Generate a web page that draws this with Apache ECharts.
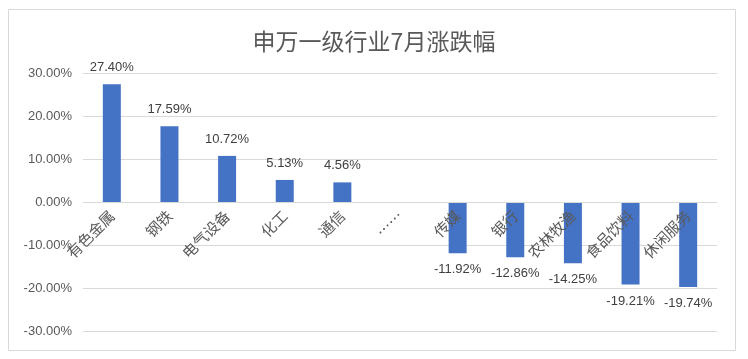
<!DOCTYPE html>
<html><head><meta charset="utf-8">
<script src="https://cdn.jsdelivr.net/npm/echarts@6/dist/echarts.min.js"></script>
<style>html,body{margin:0;padding:0;background:#fff}#c{width:748px;height:359px}</style>
</head><body><div id="c"></div>
<script>
const titleText = '申万一级行业7月涨跌幅';
const categories = ['有色金属','钢铁','电气设备','化工','通信','……','传媒','银行','农林牧渔','食品饮料','休闲服务'];
const values = [27.40, 17.59, 10.72, 5.13, 4.56, null, -11.92, -12.86, -14.25, -19.21, -19.74];
const yTicks = [-30, -20, -10, 0, 10, 20, 30];

const FONT = '"Liberation Sans", "Noto Sans CJK SC", sans-serif';
const chart = echarts.init(document.getElementById('c'), null, {renderer:'canvas'});
chart.setOption({
  animation:false,
  title:{text:titleText,left:'center',top:25,textStyle:{fontFamily:'"Noto Sans CJK SC", sans-serif',fontWeight:'normal',fontSize:23,color:'#595959'}},
  graphic:[{type:'rect',shape:{x:8.5,y:9.5,width:727,height:341},style:{fill:'none',stroke:'#d9d9d9',lineWidth:1},silent:true,z:-1}],
  grid:{left:83,right:31,top:73,bottom:28,containLabel:false,outerBoundsMode:'none'},
  xAxis:{type:'category',data:categories,offset:-129,z:5,
    axisLine:{onZero:false,lineStyle:{color:'#d9d9d9'}},axisTick:{show:false},
    axisLabel:{rotate:45,margin:11,interval:0,color:'#595959',fontSize:15,fontFamily:'"Noto Sans CJK SC", sans-serif'}},
  yAxis:{type:'value',min:yTicks[0],max:yTicks[yTicks.length-1],interval:10,
    axisLine:{show:false},axisTick:{show:false},
    splitLine:{lineStyle:{color:'#d9d9d9'}},
    axisLabel:{color:'#595959',fontSize:13,fontFamily:FONT,margin:11,formatter:v=>v.toFixed(2)+'%'}},
  series:[{type:'bar',data:values.map(v=>v===null?null:{value:v,label:{position:v>=0?'top':'bottom'}}),barWidth:18,
    itemStyle:{color:'#4472C4'},
    label:{show:true,color:'#404040',fontSize:13,fontFamily:FONT,distance:10,formatter:p=>p.value.toFixed(2)+'%'}}]
});
</script></body></html>
